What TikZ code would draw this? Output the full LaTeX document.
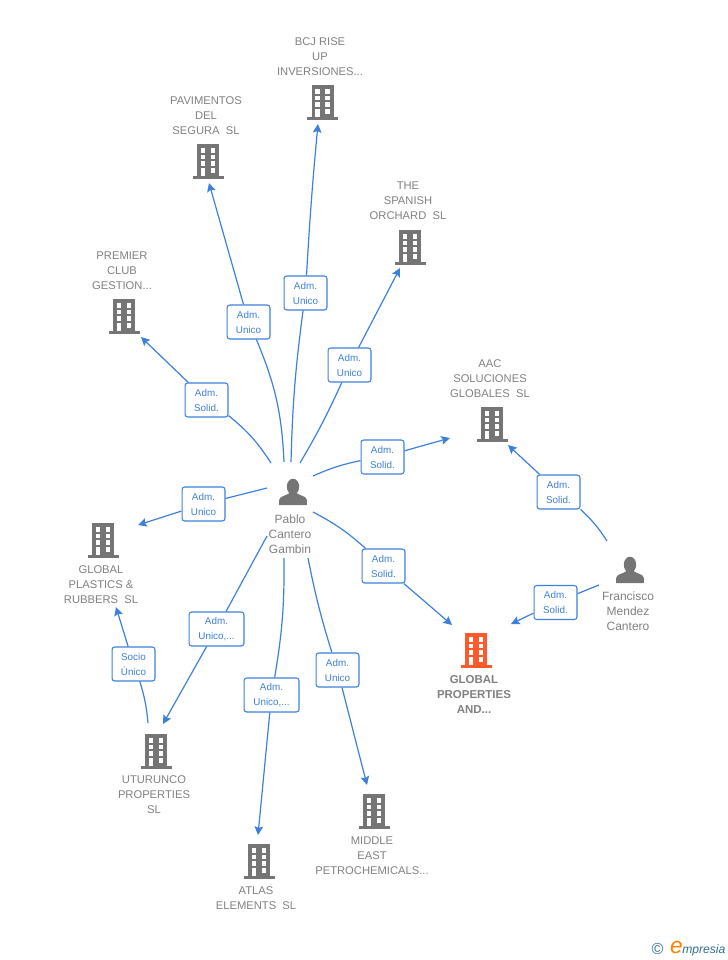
\documentclass[tikz,border=0pt]{standalone}
\usepackage{fontspec}
\setmainfont{Liberation Sans}
\usetikzlibrary{arrows.meta}
\definecolor{linkblue}{HTML}{3C80DC}
\definecolor{iconrey}{HTML}{757575}
\definecolor{namegrey}{HTML}{808080}
\definecolor{mainorange}{HTML}{FF5A2C}
\definecolor{logoteal}{HTML}{2F6F8F}
\tikzset{
	building/.pic={
		\fill[pic actions] (-11, -17) rectangle (11, 15);
		\fill[pic actions] (-15.5, 15) rectangle (15.5, 17.5);
		\fill[white] (-7.4, -13) rectangle (-2.7, -8.5);
		\fill[white] (2.6, -13) rectangle (7.4, -8.5);
		\fill[white] (-7.4, -6.5) rectangle (-2.7, -1.9);
		\fill[white] (2.6, -6.5) rectangle (7.4, -1.9);
		\fill[white] (-7.4, 0.1) rectangle (-2.7, 4.8);
		\fill[white] (2.6, 0.1) rectangle (7.4, 4.8);
		\fill[white] (-7.4, 6.8) rectangle (-2.7, 15);
		\fill[white] (2.6, 6.8) rectangle (7.4, 11.5);
	},
	person/.pic={
		\fill[iconrey] (0, -4.3) ellipse (6.2 and 8);
		\fill[iconrey] (-13.8, 14) -- (-13.8, 9) .. controls (-13.8, 5) and (-6, 4.5) .. (-3.5, 2)
			-- (3.5, 2) .. controls (6, 4.5) and (13.8, 5) .. (13.8, 9) -- (13.8, 14) -- cycle;
	},
	link/.style={line width=0.9pt, color=linkblue},
	arrowlink/.style={link, -{Stealth[length=6.5pt, width=6.5pt, inset=1.2pt]}},
	admbox/.style={draw=linkblue, line width=0.8pt, fill=white, rounded corners=2pt, text=linkblue,
		minimum width=32.2pt, minimum height=25.5pt, inner sep=0pt, align=center,
		font=\fontsize{7.4}{11.25}\selectfont},
	widebox/.style={admbox, minimum width=41.2pt},
	namelabel/.style={text=namegrey, inner sep=0pt, align=center, font=\fontsize{8.4}{11.25}\selectfont},
	personlabel/.style={namelabel, font=\fontsize{9}{11.25}\selectfont},
}
\begin{document}
\begin{tikzpicture}[x=0.75pt, y=-0.75pt]
	\useasboundingbox (0, 0) rectangle (728, 960);

	%%%%% COMPANIES %%%%%
	\pic[fill=iconrey] at (322.5, 102) {building};
	\node[namelabel] (bcj) at (320, 57) {BCJ RISE\\UP\\INVERSIONES...};
	\pic[fill=iconrey] at (208, 161) {building};
	\node[namelabel] (pavimentos) at (206, 116) {PAVIMENTOS\\DEL\\SEGURA~~SL};
	\pic[fill=iconrey] at (124, 316) {building};
	\node[namelabel] (premier) at (122, 271) {PREMIER\\CLUB\\GESTION...};
	\pic[fill=iconrey] at (410, 247) {building};
	\node[namelabel] (orchard) at (408, 201) {THE\\SPANISH\\ORCHARD~~SL};
	\pic[fill=iconrey] at (492, 424) {building};
	\node[namelabel] (aac) at (490, 379) {AAC\\SOLUCIONES\\GLOBALES~~SL};
	\pic[fill=iconrey] at (103, 540) {building};
	\node[namelabel] (plastics) at (101, 585) {GLOBAL\\PLASTICS \&\\RUBBERS~~SL};
	\pic[fill=iconrey] at (156, 751) {building};
	\node[namelabel] (uturunco) at (154, 795) {UTURUNCO\\PROPERTIES\\SL};
	\pic[fill=iconrey] at (259, 861) {building};
	\node[namelabel] (atlas) at (256, 898) {ATLAS\\ELEMENTS~~SL};
	\pic[fill=iconrey] at (374, 811) {building};
	\node[namelabel] (middle) at (372, 856) {MIDDLE\\EAST\\PETROCHEMICALS...};
	\pic[fill=mainorange] at (476, 650) {building};
	\node[namelabel, font=\fontsize{8.6}{11.25}\selectfont\bfseries] (globalprop) at (474, 694) {GLOBAL\\PROPERTIES\\AND...};

	%%%%% PEOPLE %%%%%
	\pic at (293, 491) {person};
	\node[personlabel] (pablo) at (290, 534) {Pablo\\Cantero\\Gambin};
	\pic at (630, 569) {person};
	\node[personlabel] (francisco) at (628, 611) {Francisco\\Mendez\\Cantero};

	%%%%% FREE ENDS %%%%%
	\coordinate (pabloA) at (271, 463);
	\coordinate (pabloB) at (284, 462);
	\coordinate (pabloC) at (291, 462);
	\coordinate (pabloD) at (300, 463);
	\coordinate (pabloE) at (313, 476);
	\coordinate (pabloF) at (313, 512);
	\coordinate (pabloG) at (267, 488);
	\coordinate (pabloH) at (267, 536);
	\coordinate (pabloI) at (284, 558);
	\coordinate (pabloJ) at (308, 558);
	\coordinate (franciscoA) at (607, 541);
	\coordinate (franciscoB) at (599, 585);
	\coordinate (uturuncoTop) at (148, 723);
	\coordinate (premierEnd) at (141, 337);
	\coordinate (pavimentosEnd) at (209, 183);
	\coordinate (bcjEnd) at (318, 124);
	\coordinate (orchardEnd) at (400, 268);
	\coordinate (aacEndA) at (450, 438);
	\coordinate (aacEndB) at (508, 445);
	\coordinate (globalEndA) at (452, 625);
	\coordinate (globalEndB) at (511, 624);
	\coordinate (plasticsEndA) at (138, 525);
	\coordinate (plasticsEndB) at (116, 607);
	\coordinate (uturuncoEnd) at (163, 724);
	\coordinate (atlasEnd) at (258, 835);
	\coordinate (middleEnd) at (367, 785);

	%%%%% ROLES %%%%%
	\node[admbox] (boxPremier) at (206.5, 400) {Adm.\\Solid.};
	\node[admbox] (boxPavimentos) at (248.5, 322) {Adm.\\Unico};
	\node[admbox] (boxBcj) at (305.5, 293) {Adm.\\Unico};
	\node[admbox] (boxOrchard) at (349.5, 365) {Adm.\\Unico};
	\node[admbox] (boxAacA) at (382.5, 457) {Adm.\\Solid.};
	\node[admbox] (boxGlobalA) at (383.5, 566) {Adm.\\Solid.};
	\node[admbox] (boxAacB) at (558.5, 492) {Adm.\\Solid.};
	\node[admbox] (boxGlobalB) at (555.5, 602.5) {Adm.\\Solid.};
	\node[admbox] (boxPlastics) at (203.5, 504) {Adm.\\Unico};
	\node[widebox] (boxUturunco) at (216.5, 629) {Adm.\\Unico,...};
	\node[widebox] (boxAtlas) at (271.5, 695) {Adm.\\Unico,...};
	\node[admbox] (boxMiddle) at (337.5, 670) {Adm.\\Unico};
	\node[admbox] (boxSocio) at (133.5, 664) {Socio\\Único};

	%%%%% LINKS %%%%%
	\draw[link] (pabloA) to[bend right=9] (boxPremier);
	\draw[arrowlink] (boxPremier) -- (premierEnd);
	\draw[link] (pabloB) to[bend right=10] (boxPavimentos);
	\draw[arrowlink] (boxPavimentos) -- (pavimentosEnd);
	\draw[link] (pabloC) to[bend left=3] (boxBcj);
	\draw[arrowlink] (boxBcj) to[bend left=1] (bcjEnd);
	\draw[link] (pabloD) to[bend right=3] (boxOrchard);
	\draw[arrowlink] (boxOrchard) -- (orchardEnd);
	\draw[link] (pabloE) to[bend left=6] (boxAacA);
	\draw[arrowlink] (boxAacA) -- (aacEndA);
	\draw[link] (pabloF) to[bend left=7] (boxGlobalA);
	\draw[arrowlink] (boxGlobalA) -- (globalEndA);
	\draw[link] (pabloG) -- (boxPlastics);
	\draw[arrowlink] (boxPlastics) -- (plasticsEndA);
	\draw[link] (pabloH) -- (boxUturunco);
	\draw[arrowlink] (boxUturunco) -- (uturuncoEnd);
	\draw[link] (pabloI) to[bend left=5] (boxAtlas);
	\draw[arrowlink] (boxAtlas) -- (atlasEnd);
	\draw[link] (pabloJ) to[bend right=3] (boxMiddle);
	\draw[arrowlink] (boxMiddle) -- (middleEnd);
	\draw[link] (franciscoA) to[bend right=7] (boxAacB);
	\draw[arrowlink] (boxAacB) -- (aacEndB);
	\draw[link] (franciscoB) -- (boxGlobalB);
	\draw[arrowlink] (boxGlobalB) -- (globalEndB);
	\draw[link] (uturuncoTop) to[bend right=6] (boxSocio);
	\draw[arrowlink] (boxSocio) -- (plasticsEndB);

	%%%%% LOGO %%%%%
	\node[text=logoteal, inner sep=0pt, font=\fontsize{12}{12}\selectfont] (copyright) at (657.5, 949) {©};
	\node[text=orange, inner sep=0pt, font=\fontsize{17}{17}\selectfont\itshape] (logoE) at (676.5, 947.5) {e};
	\node[text=logoteal, inner sep=0pt, anchor=west, font=\fontsize{9.1}{12}\selectfont\itshape] (logoName) at (682, 950) {mpresia};
\end{tikzpicture}
\end{document}
